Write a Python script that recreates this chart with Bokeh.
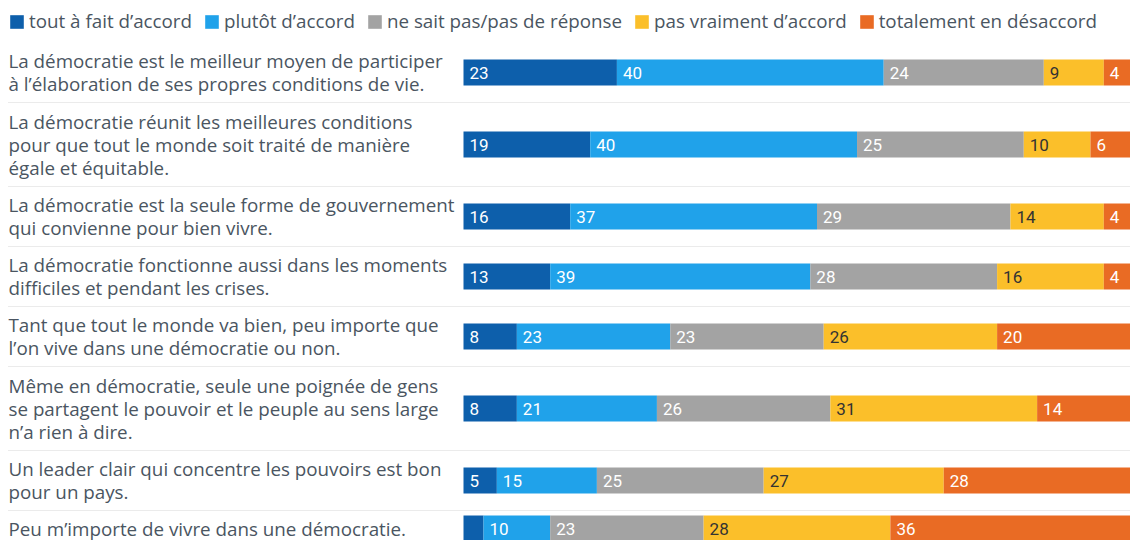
from bokeh.plotting import figure
from bokeh.models import ColumnDataSource, Range1d, Legend, LegendItem
from bokeh.core.properties import value
from bokeh.embed import file_html
from bokeh.resources import INLINE

# ---------------- data ----------------
statements = [
    "La démocratie est le meilleur moyen de participer\nà l’élaboration de ses propres conditions de vie.",
    "La démocratie réunit les meilleures conditions\npour que tout le monde soit traité de manière\négale et équitable.",
    "La démocratie est la seule forme de gouvernement\nqui convienne pour bien vivre.",
    "La démocratie fonctionne aussi dans les moments\ndifficiles et pendant les crises.",
    "Tant que tout le monde va bien, peu importe que\nl’on vive dans une démocratie ou non.",
    "Même en démocratie, seule une poignée de gens\nse partagent le pouvoir et le peuple au sens large\nn’a rien à dire.",
    "Un leader clair qui concentre les pouvoirs est bon\npour un pays.",
    "Peu m’importe de vivre dans une démocratie.",
]
series_names = ["tout à fait d’accord", "plutôt d’accord", "ne sait pas/pas de réponse",
                "pas vraiment d’accord", "totalement en désaccord"]
tout_a_fait = [23, 19, 16, 13, 8, 8, 5, 3]
plutot = [40, 40, 37, 39, 23, 21, 15, 10]
ne_sait_pas = [24, 25, 29, 28, 23, 26, 25, 23]
pas_vraiment = [9, 10, 14, 16, 26, 31, 27, 28]
totalement = [4, 6, 4, 4, 20, 14, 28, 36]
series_values = [tout_a_fait, plutot, ne_sait_pas, pas_vraiment, totalement]

# ---------------- style ----------------
colors = ["#0d5fab", "#20a2ea", "#a3a3a3", "#fbbf2a", "#e96b24"]
label_colors = ["white", "white", "white", "#333333", "white"]
text_color = "#4a5561"
FONT = "Open Sans"
NUM_FONT = "Roboto"

W, H = 1130, 540
PX = 6.67           # pixels per percent
LEFT = -463 / PX    # data x at left edge of figure
TXT_X = LEFT + 8 / PX
LINE_H = 23
TOP0 = 42           # top of first row (frame pixels)

p = figure(width=W, height=H, output_backend="svg", toolbar_location=None,
           x_range=Range1d(LEFT, 100), y_range=Range1d(H, 0),
           min_border=0, outline_line_color=None)
p.axis.visible = False
p.grid.visible = False

# row layout
centers, bottoms = [], []
y = TOP0
for s in statements:
    n = len(s.split("\n"))
    h = 24 * n + 12
    centers.append(y + h / 2)
    bottoms.append(y + h)
    y += h

# statement texts
tx, ty, tt = [], [], []
for s, c in zip(statements, centers):
    lines = s.split("\n")
    n = len(lines)
    for i, ln in enumerate(lines):
        tx.append(TXT_X)
        ty.append(c + (i - (n - 1) / 2) * LINE_H)
        tt.append(ln)
p.text(x=tx, y=ty, text=tt, text_font=value(FONT), text_font_size="18.8px",
       text_color=text_color, text_baseline="middle", text_align="left")

# separators
seps = bottoms[:-1]
p.segment(x0=[TXT_X] * len(seps), x1=[100] * len(seps), y0=seps, y1=seps,
          line_color="#d6d6d6", line_width=1, line_dash="1 1")

# bars
cum = [0] * len(statements)
items = []
for name, vals, col, lcol in zip(series_names, series_values, colors, label_colors):
    left = cum[:]
    right = [a + b for a, b in zip(left, vals)]
    src = ColumnDataSource(dict(y=centers, left=left, right=right, v=vals))
    r = p.hbar(y="y", left="left", right="right", height=26, source=src,
               fill_color=col, line_color=None)
    items.append(LegendItem(label=name, renderers=[r]))
    lx = [l for l, v in zip(left, vals) if v >= 4]
    ly = [c for c, v in zip(centers, vals) if v >= 4]
    lt = [str(v) for v in vals if v >= 4]
    p.text(x=lx, y=ly, text=lt, x_offset=6, text_font=value(NUM_FONT),
           text_font_size="17px", text_color=lcol, text_baseline="middle",
           text_align="left")
    cum = right

legend = Legend(items=items, orientation="horizontal", location="top_left",
                glyph_width=17, glyph_height=17, label_height=22,
                label_standoff=4, spacing=11, padding=0, margin=8,
                label_text_font=FONT, label_text_font_size="18.8px",
                label_text_color=text_color, background_fill_alpha=0,
                border_line_color=None)
p.add_layout(legend)

open("out.html", "w").write(file_html(p, INLINE))
